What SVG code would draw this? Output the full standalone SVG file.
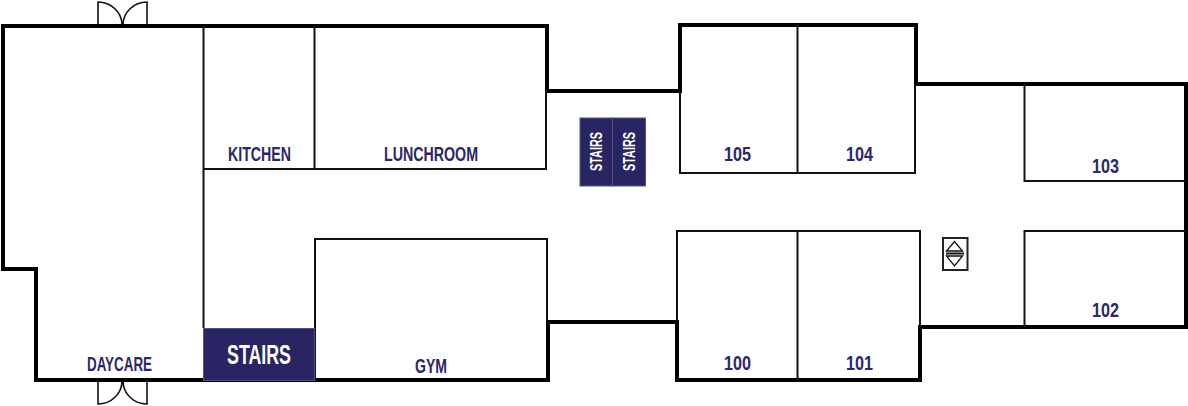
<svg xmlns="http://www.w3.org/2000/svg" width="1188" height="406" viewBox="0 0 1188 406">
<style>
.wall{fill:none;stroke:#000;stroke-width:4;stroke-linejoin:miter}
.in{fill:none;stroke:#111;stroke-width:2}
.door{fill:none;stroke:#111;stroke-width:1.6}
.fill{fill:#292563;stroke:#55527f;stroke-width:1}
text{font-family:"Liberation Sans Narrow","Liberation Sans",sans-serif;font-weight:bold}
.l{fill:#2b2769;font-size:20px}
.w{fill:#fff}
</style>
<rect width="1188" height="406" fill="#fff"/>
<g id="connectors">
<path class="wall" d="M3 26H547V91H680V25H916V84H1186V327H920V380H677V322H548V380H36V269H3Z"/>
<path class="in" d="M203.500 26V328M314.500 26V170M203 169H547M546 91V170M315 380V239H547V322M680 91V173H915V85M797.500 25V173M677 322V231H920V327M797.500 231V380M1024.500 84V181H1186M1024.500 327V231H1186"/>
</g>
<g id="door-top"><path class="door" d="M98 25V2A24 23 0 0 1 122 25M147 25V2A24 23 0 0 0 123 25"/></g>
<g id="door-bottom"><path class="door" d="M98 381V404A24 23 0 0 0 122 381M147 381V404A24 23 0 0 1 123 381"/></g>
<g id="stairs-main"><rect class="fill" x="203.500" y="328.500" width="111" height="52"/><text class="w" x="227" y="364" font-size="27" textLength="64" lengthAdjust="spacingAndGlyphs">STAIRS</text></g>
<g id="stairs-a"><rect class="fill" x="580" y="118" width="32.500" height="68"/><text class="w" transform="translate(602 171) rotate(-90)" font-size="16" textLength="39" lengthAdjust="spacingAndGlyphs">STAIRS</text></g>
<g id="stairs-b"><rect class="fill" x="612.500" y="118" width="33" height="68"/><text class="w" transform="translate(635 171) rotate(-90)" font-size="16" textLength="39" lengthAdjust="spacingAndGlyphs">STAIRS</text></g>
<g id="elevator"><rect x="943" y="238" width="24.500" height="32" fill="#fff" stroke="#222" stroke-width="2"/><path d="M946 253.500H964" stroke="#111" stroke-width="2"/><path d="M954.500 241.500L946.500 251H962.500ZM946.500 256H962.500L954.500 266Z" fill="#fff" stroke="#111" stroke-width="1.300"/></g>
<g id="daycare"><text class="l" x="87" y="371" textLength="65" lengthAdjust="spacingAndGlyphs">DAYCARE</text></g>
<g id="kitchen"><text class="l" x="228" y="160.500" textLength="63" lengthAdjust="spacingAndGlyphs">KITCHEN</text></g>
<g id="lunchroom"><text class="l" x="384" y="160.500" textLength="94" lengthAdjust="spacingAndGlyphs">LUNCHROOM</text></g>
<g id="gym"><text class="l" x="415" y="372.500" textLength="32" lengthAdjust="spacingAndGlyphs">GYM</text></g>
<g id="room-105"><text class="l" x="724" y="160.500" textLength="27" lengthAdjust="spacingAndGlyphs">105</text></g>
<g id="room-104"><text class="l" x="846" y="160.500" textLength="27" lengthAdjust="spacingAndGlyphs">104</text></g>
<g id="room-103"><text class="l" x="1092" y="172.500" textLength="27" lengthAdjust="spacingAndGlyphs">103</text></g>
<g id="room-102"><text class="l" x="1092" y="316.500" textLength="27" lengthAdjust="spacingAndGlyphs">102</text></g>
<g id="room-100"><text class="l" x="724" y="369.500" textLength="27" lengthAdjust="spacingAndGlyphs">100</text></g>
<g id="room-101"><text class="l" x="846" y="369.500" textLength="27" lengthAdjust="spacingAndGlyphs">101</text></g>
</svg>
